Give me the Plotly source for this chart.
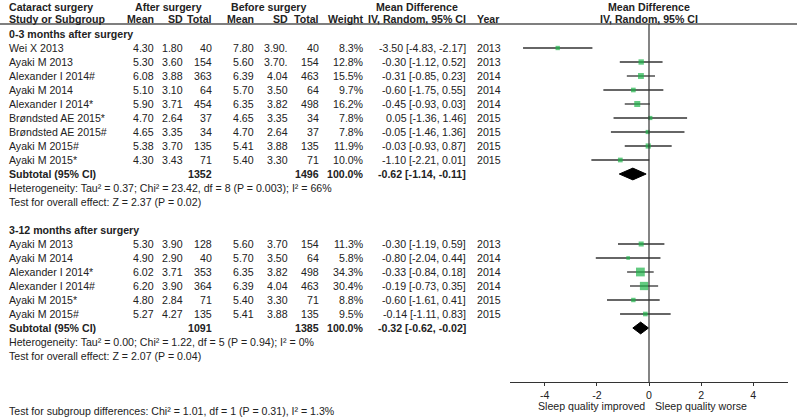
import plotly.graph_objects as go

# ---------------- data ----------------
group_titles = ["0-3 months after surgery", "3-12 months after surgery"]

studies_a = ["Wei X 2013", "Ayaki M 2013", "Alexander I 2014#", "Ayaki M 2014", "Alexander I 2014*",
             "Brøndsted AE 2015*", "Brøndsted AE 2015#", "Ayaki M 2015#", "Ayaki M 2015*"]
mean_after_a = [4.30, 5.30, 6.08, 5.10, 5.90, 4.70, 4.65, 5.38, 4.30]
sd_after_a = [1.80, 3.60, 3.88, 3.10, 3.71, 2.64, 3.35, 3.70, 3.43]
n_after_a = [40, 154, 363, 64, 454, 37, 34, 135, 71]
mean_before_a = [7.80, 5.60, 6.39, 5.70, 6.35, 4.65, 4.70, 5.41, 5.40]
sd_before_a = ["3.90.", "3.70.", "4.04", "3.50", "3.82", "3.35", "2.64", "3.88", "3.30"]
n_before_a = [40, 154, 463, 64, 498, 34, 37, 135, 71]
weight_a = [8.3, 12.8, 15.5, 9.7, 16.2, 7.8, 7.8, 11.9, 10.0]
md_a = [-3.50, -0.30, -0.31, -0.60, -0.45, 0.05, -0.05, -0.03, -1.10]
lo_a = [-4.83, -1.12, -0.85, -1.75, -0.93, -1.36, -1.46, -0.93, -2.21]
hi_a = [-2.17, 0.52, 0.23, 0.55, 0.03, 1.46, 1.36, 0.87, 0.01]
year_a = [2013, 2013, 2014, 2014, 2014, 2015, 2015, 2015, 2015]
subtotal_a = {"n_after": 1352, "n_before": 1496, "md": -0.62, "lo": -1.14, "hi": -0.11}
het_a = "Heterogeneity: Tau² = 0.37; Chi² = 23.42, df = 8 (P = 0.003); I² = 66%"
eff_a = "Test for overall effect: Z = 2.37 (P = 0.02)"

studies_b = ["Ayaki M 2013", "Ayaki M 2014", "Alexander I 2014*", "Alexander I 2014#",
             "Ayaki M 2015*", "Ayaki M 2015#"]
mean_after_b = [5.30, 4.90, 6.02, 6.20, 4.80, 5.27]
sd_after_b = [3.90, 2.90, 3.71, 3.90, 2.84, 4.27]
n_after_b = [128, 40, 353, 364, 71, 135]
mean_before_b = [5.60, 5.70, 6.35, 6.39, 5.40, 5.41]
sd_before_b = ["3.70", "3.50", "3.82", "4.04", "3.30", "3.88"]
n_before_b = [154, 64, 498, 463, 71, 135]
weight_b = [11.3, 5.8, 34.3, 30.4, 8.8, 9.5]
md_b = [-0.30, -0.80, -0.33, -0.19, -0.60, -0.14]
lo_b = [-1.19, -2.04, -0.84, -0.73, -1.61, -1.11]
hi_b = [0.59, 0.44, 0.18, 0.35, 0.41, 0.83]
year_b = [2013, 2014, 2014, 2014, 2015, 2015]
subtotal_b = {"n_after": 1091, "n_before": 1385, "md": -0.32, "lo": -0.62, "hi": -0.02}
het_b = "Heterogeneity: Tau² = 0.00; Chi² = 1.22, df = 5 (P = 0.94); I² = 0%"
eff_b = "Test for overall effect: Z = 2.07 (P = 0.04)"

subgroup_test = "Test for subgroup differences: Chi² = 1.01, df = 1 (P = 0.31), I² = 1.3%"
x_ticks = [-4, -2, 0, 2, 4]
x_tick_labels = ["-4", "-2", "0", "2", "4"]
favours_left = "Sleep quality improved"
favours_right = "Sleep quality worse"

# ---------------- layout helpers ----------------
W, H = 797, 417
ROW0, DY = 34, 14


def yrow(py):
    return (py - ROW0) / DY


def px(x):
    return x / W


FONT = "Arial, Liberation Sans, sans-serif"
FS = 10.6
TXT = "#222222"
GREEN = "#1fb34a"
LINE = "#333333"

fig = go.Figure()
ann = []


def text(x, row, s, anchor="left", bold=False, size=FS):
    ann.append(dict(x=px(x), y=row, xref="paper", yref="y", text=("<b>%s</b>" % s) if bold else s,
                    showarrow=False, xanchor=anchor, yanchor="middle", borderpad=0, borderwidth=0,
                    font=dict(family=FONT, size=size, color=TXT)))


# column right edges (pixels)
C_MA, C_SA, C_NA, C_MB, C_SB, C_NB, C_W, C_MD, C_Y = 154, 183, 212, 254, 288, 319, 364, 466, 477

# header
text(9, yrow(7), "Cataract surgery", bold=True)
text(9, yrow(19), "Study or Subgroup", bold=True)
text(168, yrow(7), "After surgery", anchor="center", bold=True)
text(268, yrow(7), "Before surgery", anchor="center", bold=True)
text(417, yrow(7), "Mean Difference", anchor="center", bold=True)
text(649, yrow(7), "Mean Difference", anchor="center", bold=True)
for xc, s in [(C_MA, "Mean"), (C_SA, "SD"), (C_NA, "Total"), (C_MB, "Mean"), (C_SB, "SD"),
              (C_NB, "Total"), (C_W, "Weight"), (C_MD, "IV, Random, 95% CI")]:
    text(xc, yrow(19), s, anchor="right", bold=True)
text(C_Y, yrow(19), "Year", bold=True)
text(649, yrow(19), "IV, Random, 95% CI", anchor="center", bold=True)

groups = [
    (0, group_titles[0], studies_a, mean_after_a, sd_after_a, n_after_a, mean_before_a, sd_before_a,
     n_before_a, weight_a, md_a, lo_a, hi_a, year_a, subtotal_a, het_a, eff_a),
    (14, group_titles[1], studies_b, mean_after_b, sd_after_b, n_after_b, mean_before_b, sd_before_b,
     n_before_b, weight_b, md_b, lo_b, hi_b, year_b, subtotal_b, het_b, eff_b),
]

ci_x, ci_y, sq_x, sq_y, sq_s = [], [], [], [], []
for (start, title, st, ma, sa, na, mb, sb, nb, w, md, lo, hi, yr, sub, het, eff) in groups:
    text(9, start, title, bold=True)
    for i in range(len(st)):
        r = start + 1 + i
        text(9, r, st[i])
        text(C_MA, r, "%.2f" % ma[i], anchor="right")
        text(C_SA, r, "%.2f" % sa[i], anchor="right")
        text(C_NA, r, str(na[i]), anchor="right")
        text(C_MB, r, "%.2f" % mb[i], anchor="right")
        text(C_SB, r, sb[i], anchor="right")
        text(C_NB, r, str(nb[i]), anchor="right")
        text(C_W, r, "%.1f%%" % w[i], anchor="right")
        text(C_MD, r, "%.2f [%.2f, %.2f]" % (md[i], lo[i], hi[i]), anchor="right")
        text(C_Y, r, str(yr[i]))
        ci_x += [lo[i], hi[i], None]
        ci_y += [r, r, None]
        sq_x.append(md[i])
        sq_y.append(r)
        sq_s.append(1.5 * w[i] ** 0.5)
    rs = start + 1 + len(st)
    text(9, rs, "Subtotal (95% CI)", bold=True)
    text(C_NA, rs, str(sub["n_after"]), anchor="right", bold=True)
    text(C_NB, rs, str(sub["n_before"]), anchor="right", bold=True)
    text(C_W, rs, "100.0%", anchor="right", bold=True)
    text(C_MD, rs, "%.2f [%.2f, %.2f]" % (sub["md"], sub["lo"], sub["hi"]), anchor="right", bold=True)
    text(9, rs + 1, het)
    text(9, rs + 2, eff)
    fig.add_trace(go.Scatter(x=[sub["lo"], sub["md"], sub["hi"], sub["md"], sub["lo"]],
                             y=[rs, rs - 0.42, rs, rs + 0.42, rs],
                             mode="lines", fill="toself", fillcolor="black",
                             line=dict(color="black", width=1), hoverinfo="skip"))

text(9, yrow(411), subgroup_test)
text(645, yrow(406), favours_left, anchor="right")
text(655, yrow(406), favours_right)

fig.add_trace(go.Scatter(x=ci_x, y=ci_y, mode="lines", line=dict(color=LINE, width=1.3),
                         hoverinfo="skip"))
fig.add_trace(go.Scatter(x=sq_x, y=sq_y, mode="markers",
                         marker=dict(symbol="square", size=sq_s, color=GREEN, line=dict(width=0))))

shapes = [
    dict(type="line", xref="paper", yref="y", x0=0, x1=1, y0=yrow(24), y1=yrow(24),
         line=dict(color="#555555", width=1.5)),
    dict(type="line", xref="x", yref="y", x0=0, x1=0, y0=yrow(24), y1=yrow(382),
         line=dict(color=LINE, width=1.2)),
]

fig.update_layout(
    width=W, height=H, margin=dict(l=0, r=0, t=0, b=0),
    paper_bgcolor="white", plot_bgcolor="white", showlegend=False,
    annotations=ann, shapes=shapes,
    xaxis=dict(domain=[510 / W, 788 / W], range=[-5.33, 5.33], anchor="free", position=1 - 382 / H,
               tickvals=x_ticks, ticktext=x_tick_labels, ticks="outside", ticklen=3,
               tickcolor=LINE, showline=True, linecolor=LINE, linewidth=1.2,
               showgrid=False, zeroline=False, tickfont=dict(family=FONT, size=FS, color=TXT)),
    yaxis=dict(domain=[0, 1], range=[yrow(H), yrow(0)], visible=False, showgrid=False,
               zeroline=False),
)

fig.write_html("out.html", config={"displayModeBar": False},
               post_script="document.body.style.margin='0';document.body.style.overflow='hidden';")
